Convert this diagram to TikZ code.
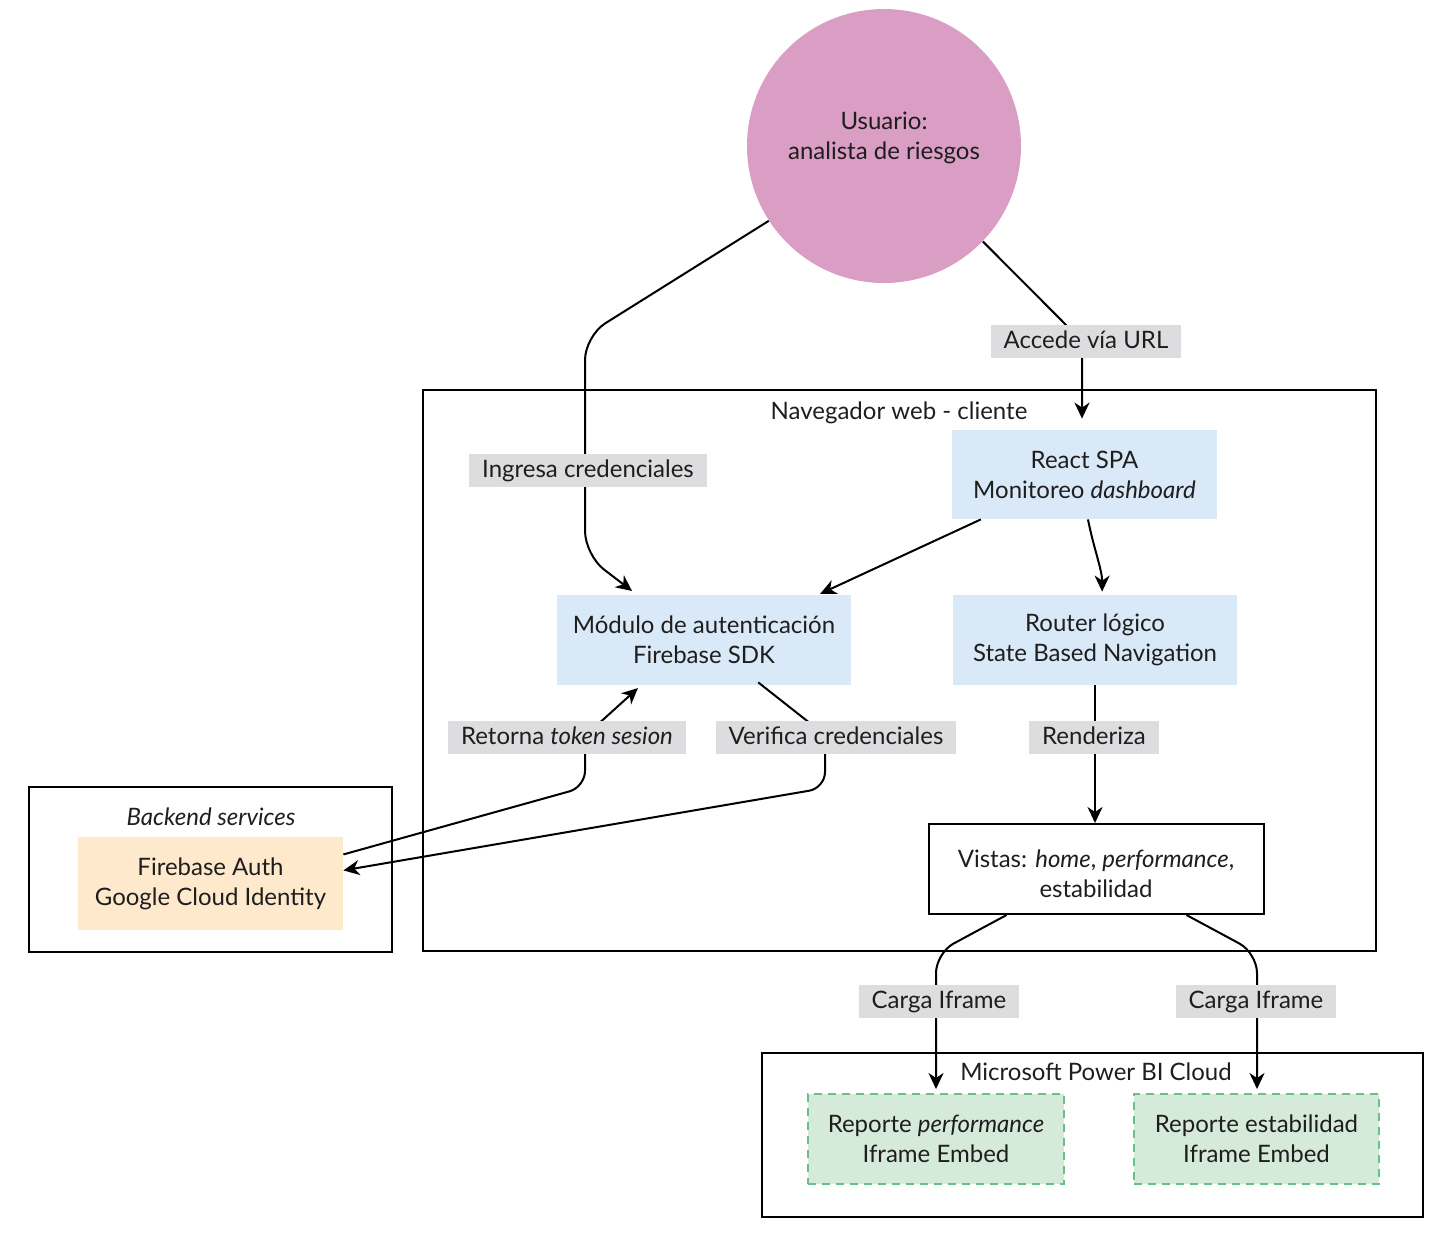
\documentclass[tikz,border=0pt]{standalone}
\usepackage{fontspec}
\setmainfont{Lato}
\usetikzlibrary{arrows.meta,calc}
\definecolor{userpink}{RGB}{218,157,195}
\definecolor{boxblue}{RGB}{218,233,247}
\definecolor{peach}{RGB}{255,233,204}
\definecolor{repgreen}{RGB}{214,234,218}
\definecolor{repborder}{RGB}{102,194,138}
\definecolor{lblgray}{RGB}{221,221,223}
\definecolor{txt}{RGB}{30,30,30}
\begin{document}
\begin{tikzpicture}[x=0.5pt,y=-0.5pt,
  font=\fontsize{12}{15}\selectfont, text=txt,
  conn/.style={line width=1pt, -{Stealth[length=8pt,width=7.5pt,inset=2.5pt]}},
  container/.style={draw=black, line width=1pt, inner sep=0pt, rectangle},
  box/.style={rectangle, inner sep=0pt, align=center},
  bluebox/.style={box, fill=boxblue},
  repbox/.style={box, fill=repgreen, draw=repborder, line width=1pt, dash pattern=on 4pt off 3pt},
  lbl/.style={fill=lblgray, inner xsep=6.5pt, inner ysep=0pt, minimum height=16.5pt, text height=1.8ex, text depth=0.3ex},
  title/.style={inner sep=0pt, align=center}]
\useasboundingbox (0,0) rectangle (1438,1233);

% containers
\node[container, minimum width=476.5pt, minimum height=280.5pt] (browser) at (899.5,670.5) {};
\node[title] (browsert) at (899,413) {Navegador web - cliente};
\node[container, minimum width=181.5pt, minimum height=82.5pt] (backend) at (210.5,869.5) {};
\node[title] (backendt) at (211,817) {\itshape Backend services};
\node[container, minimum width=330.5pt, minimum height=82pt] (pbi) at (1092.5,1135) {};
\node[title] (pbit) at (1096,1072) {Microsoft Power BI Cloud};

% user
\node[circle, fill=userpink, minimum size=137pt, inner sep=0pt] (user) at (884,146) {};
\node[title] (usert) at (884,138) {Usuario:\\analista de riesgos};

% boxes
\node[bluebox, minimum width=132.5pt, minimum height=44.5pt] (react) at (1084.5,474.5) {React SPA\\Monitoreo \textit{dashboard}};
\node[bluebox, minimum width=147pt, minimum height=45pt] (mod) at (704,640) {Módulo de autenticación\\Firebase SDK};
\node[bluebox, minimum width=142pt, minimum height=45pt] (router) at (1095,640) {Router lógico\\State Based Navigation};
\node[box, draw=black, line width=1pt, fill=white, minimum width=167.5pt, minimum height=45pt] (vistas) at (1096.5,869) {};
\node[title] (vistast) at (1096,874) {Vistas: \textit{home}, \textit{performance},\\estabilidad};
\node[box, fill=peach, minimum width=132.5pt, minimum height=46.5pt] (fb) at (210.5,883.5) {Firebase Auth\\Google Cloud Identity};
\node[repbox, minimum width=128pt, minimum height=45pt] (rep1) at (936,1139) {Reporte \textit{performance}\\Iframe Embed};
\node[repbox, minimum width=122.5pt, minimum height=45pt] (rep2) at (1256.5,1139) {Reporte estabilidad\\Iframe Embed};

% connectors
\draw[conn, rounded corners=12pt, shorten >=3pt] (user.213) -- (585,336) -- (585,555) -- ($(mod.north west)!0.272!(mod.north east)$);
\draw[conn, rounded corners=6pt, shorten >=5.5pt] (user.-44) -- (1082,341) -- ($(react.north)+(-2.5,0)$);
\draw[conn, shorten >=1pt] ($(react.south west)!0.11!(react.south east)$) -- ($(mod.north west)!0.888!(mod.north east)$);
\draw[conn, shorten >=1.5pt] ($(react.south west)!0.513!(react.south east)$) .. controls +(6,30) and +(0,-25) .. ($(router.north west)!0.525!(router.north east)$);
\draw[conn, rounded corners=8pt] ($(mod.south west)!0.684!(mod.south east)+(0,-3)$) -- (825,735) -- (825,788) -- ($(fb.north east)!0.36!(fb.south east)$);
\draw[conn, rounded corners=8pt, shorten >=2pt] ($(fb.north east)!0.19!(fb.south east)$) -- (585,787) -- (585,736) -- ($(mod.south west)!0.286!(mod.south east)$);
\draw[conn] (router.south) -- (router.south |- vistas.north);
\draw[conn, rounded corners=10pt, shorten >=2pt] ($(vistas.south west)!0.233!(vistas.south east)$) -- (936,953) -- (rep1.north);
\draw[conn, rounded corners=10pt, shorten >=2pt] ($(vistas.south west)!0.767!(vistas.south east)$) -- (1257,953) -- ($(rep2.north)+(0.5,0)$);

% labels
\node[lbl] (l1) at (1086,341) {Accede vía URL};
\node[lbl] (l2) at (588,470) {Ingresa credenciales};
\node[lbl] (l3) at (567,737) {Retorna \textit{token sesion}};
\node[lbl] (l4) at (836,737) {Verifica credenciales};
\node[lbl] (l5) at (1094,737) {Renderiza};
\node[lbl] (l6) at (939,1001) {Carga Iframe};
\node[lbl] (l7) at (1256,1001) {Carga Iframe};
\end{tikzpicture}
\end{document}
